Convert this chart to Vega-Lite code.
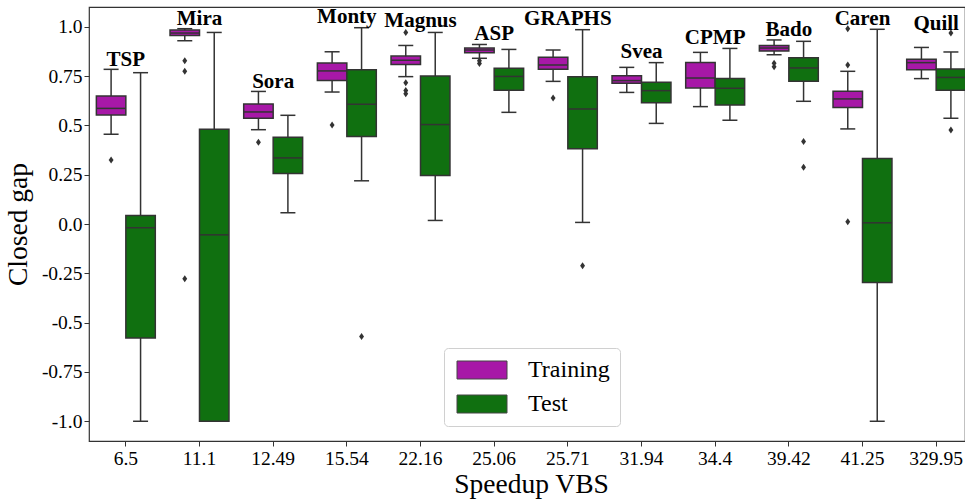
{
  "$schema": "https://vega.github.io/schema/vega-lite/v6.json",
  "autosize": {"type": "none"},
  "width": 876,
  "height": 434,
  "padding": {"left": 89, "top": 7, "right": 0, "bottom": 59},
  "background": "white",
  "config": {
    "font": "Liberation Serif",
    "view": {"stroke": "#333333", "strokeWidth": 1.2},
    "axis": {
      "grid": false,
      "domain": false,
      "tickColor": "#333333",
      "tickSize": 5,
      "tickWidth": 1,
      "labelColor": "#000000",
      "labelFont": "Liberation Serif",
      "labelFontSize": 19.5,
      "titleFont": "Liberation Serif",
      "titleFontSize": 27.5,
      "titleFontWeight": "normal",
      "titleColor": "#000000"
    },
    "axisX": {"labelPadding": 3, "titlePadding": 3, "labelAngle": 0},
    "axisY": {"labelPadding": 2, "titlePadding": 9},
    "legend": {
      "orient": "none",
      "legendX": 355,
      "legendY": 341,
      "padding": 10,
      "strokeColor": "#d0d0d0",
      "fillColor": "#ffffff",
      "cornerRadius": 4,
      "labelFont": "Liberation Serif",
      "labelFontSize": 24,
      "labelColor": "#000000",
      "symbolType": "M-1,-1L4.556,-1L4.556,1L-1,1Z",
      "symbolSize": 324,
      "symbolStrokeColor": "#444444",
      "symbolStrokeWidth": 1,
      "symbolOpacity": 1,
      "labelOffset": 50,
      "rowPadding": 10
    }
  },
  "datasets": {
    "boxes": [
      {"speedup": "6.5", "set": "Training", "lo": 0.455, "q1": 0.553, "med": 0.586, "q3": 0.649, "hi": 0.784},
      {"speedup": "6.5", "set": "Test", "lo": -1.0, "q1": -0.578, "med": -0.019, "q3": 0.043, "hi": 0.767},
      {"speedup": "11.1", "set": "Training", "lo": 0.929, "q1": 0.956, "med": 0.968, "q3": 0.983, "hi": 0.99},
      {"speedup": "11.1", "set": "Test", "lo": -1.0, "q1": -1.0, "med": -0.055, "q3": 0.48, "hi": 0.971},
      {"speedup": "12.49", "set": "Training", "lo": 0.478, "q1": 0.536, "med": 0.568, "q3": 0.608, "hi": 0.672},
      {"speedup": "12.49", "set": "Test", "lo": 0.057, "q1": 0.256, "med": 0.335, "q3": 0.44, "hi": 0.551},
      {"speedup": "15.54", "set": "Training", "lo": 0.669, "q1": 0.728, "med": 0.776, "q3": 0.816, "hi": 0.873},
      {"speedup": "15.54", "set": "Test", "lo": 0.219, "q1": 0.443, "med": 0.607, "q3": 0.782, "hi": 0.995},
      {"speedup": "22.16", "set": "Training", "lo": 0.747, "q1": 0.809, "med": 0.83, "q3": 0.851, "hi": 0.905},
      {"speedup": "22.16", "set": "Test", "lo": 0.018, "q1": 0.246, "med": 0.504, "q3": 0.75, "hi": 0.971},
      {"speedup": "25.06", "set": "Training", "lo": 0.84, "q1": 0.868, "med": 0.882, "q3": 0.892, "hi": 0.91},
      {"speedup": "25.06", "set": "Test", "lo": 0.566, "q1": 0.678, "med": 0.748, "q3": 0.789, "hi": 0.885},
      {"speedup": "25.71", "set": "Training", "lo": 0.723, "q1": 0.784, "med": 0.806, "q3": 0.845, "hi": 0.882},
      {"speedup": "25.71", "set": "Test", "lo": 0.008, "q1": 0.382, "med": 0.583, "q3": 0.747, "hi": 0.985},
      {"speedup": "31.94", "set": "Training", "lo": 0.667, "q1": 0.713, "med": 0.727, "q3": 0.752, "hi": 0.794},
      {"speedup": "31.94", "set": "Test", "lo": 0.51, "q1": 0.615, "med": 0.676, "q3": 0.718, "hi": 0.818},
      {"speedup": "34.4", "set": "Training", "lo": 0.595, "q1": 0.69, "med": 0.74, "q3": 0.819, "hi": 0.87},
      {"speedup": "34.4", "set": "Test", "lo": 0.526, "q1": 0.603, "med": 0.688, "q3": 0.738, "hi": 0.89},
      {"speedup": "39.42", "set": "Training", "lo": 0.858, "q1": 0.877, "med": 0.892, "q3": 0.905, "hi": 0.933},
      {"speedup": "39.42", "set": "Test", "lo": 0.622, "q1": 0.723, "med": 0.791, "q3": 0.843, "hi": 0.926},
      {"speedup": "41.25", "set": "Training", "lo": 0.482, "q1": 0.59, "med": 0.634, "q3": 0.673, "hi": 0.774},
      {"speedup": "41.25", "set": "Test", "lo": -1.0, "q1": -0.296, "med": 0.006, "q3": 0.332, "hi": 0.987},
      {"speedup": "329.95", "set": "Training", "lo": 0.737, "q1": 0.782, "med": 0.818, "q3": 0.835, "hi": 0.895},
      {"speedup": "329.95", "set": "Test", "lo": 0.536, "q1": 0.678, "med": 0.743, "q3": 0.786, "hi": 0.872}
    ],
    "outliers": [
      {"speedup": "6.5", "set": "Training", "value": 0.325},
      {"speedup": "11.1", "set": "Training", "value": 0.828},
      {"speedup": "11.1", "set": "Training", "value": 0.774},
      {"speedup": "11.1", "set": "Training", "value": -0.278},
      {"speedup": "12.49", "set": "Training", "value": 0.414},
      {"speedup": "15.54", "set": "Training", "value": 0.502},
      {"speedup": "15.54", "set": "Test", "value": -0.57},
      {"speedup": "22.16", "set": "Training", "value": 0.971},
      {"speedup": "22.16", "set": "Training", "value": 0.716},
      {"speedup": "22.16", "set": "Training", "value": 0.677},
      {"speedup": "22.16", "set": "Training", "value": 0.66},
      {"speedup": "25.06", "set": "Training", "value": 0.828},
      {"speedup": "25.06", "set": "Training", "value": 0.813},
      {"speedup": "25.71", "set": "Training", "value": 0.639},
      {"speedup": "25.71", "set": "Test", "value": -0.212},
      {"speedup": "39.42", "set": "Training", "value": 0.815},
      {"speedup": "39.42", "set": "Training", "value": 0.797},
      {"speedup": "39.42", "set": "Test", "value": 0.418},
      {"speedup": "39.42", "set": "Test", "value": 0.288},
      {"speedup": "41.25", "set": "Training", "value": 0.99},
      {"speedup": "41.25", "set": "Training", "value": 0.806},
      {"speedup": "41.25", "set": "Training", "value": 0.011},
      {"speedup": "329.95", "set": "Test", "value": 0.968},
      {"speedup": "329.95", "set": "Test", "value": 0.477}
    ],
    "labels": [
      {"speedup": "6.5", "name": "TSP", "y": 0.803},
      {"speedup": "11.1", "name": "Mira", "y": 1.009},
      {"speedup": "12.49", "name": "Sora", "y": 0.69},
      {"speedup": "15.54", "name": "Monty", "y": 1.017},
      {"speedup": "22.16", "name": "Magnus", "y": 1.0},
      {"speedup": "25.06", "name": "ASP", "y": 0.933},
      {"speedup": "25.71", "name": "GRAPHS", "y": 1.009},
      {"speedup": "31.94", "name": "Svea", "y": 0.841},
      {"speedup": "34.4", "name": "CPMP", "y": 0.912},
      {"speedup": "39.42", "name": "Bado", "y": 0.954},
      {"speedup": "41.25", "name": "Caren", "y": 1.01},
      {"speedup": "329.95", "name": "Quill", "y": 0.985}
    ]
  },
  "encoding": {
    "x": {
      "field": "speedup",
      "type": "nominal",
      "title": "Speedup VBS",
      "scale": {
        "domain": ["6.5", "11.1", "12.49", "15.54", "22.16", "25.06", "25.71", "31.94", "34.4", "39.42", "41.25", "329.95"],
        "range": [0, 884],
        "paddingInner": 0,
        "paddingOuter": 0
      }
    }
  },
  "layer": [
    {
      "data": {"name": "boxes"},
      "mark": {"type": "rule", "color": "#333333", "strokeWidth": 1.5},
      "encoding": {
        "xOffset": {"field": "set", "type": "nominal", "scale": {"domain": ["Training", "Test"], "paddingInner": 0, "paddingOuter": 0.25}},
        "y": {"field": "lo", "type": "quantitative", "title": "Closed gap",
              "scale": {"domain": [-1.1, 1.1], "nice": false, "zero": false},
              "axis": {"values": [-1, -0.75, -0.5, -0.25, 0, 0.25, 0.5, 0.75, 1],
                       "labelExpr": "(abs(datum.value) == 1 || datum.value == 0) ? toString(datum.value) + '.0' : toString(datum.value)"}},
        "y2": {"field": "hi"}
      }
    },
    {
      "data": {"name": "boxes"},
      "mark": {"type": "tick", "color": "#333333", "thickness": 1.5, "size": 15, "opacity": 1},
      "encoding": {
        "xOffset": {"field": "set", "type": "nominal"},
        "y": {"field": "lo", "type": "quantitative", "title": "Closed gap"}
      }
    },
    {
      "data": {"name": "boxes"},
      "mark": {"type": "tick", "color": "#333333", "thickness": 1.5, "size": 15, "opacity": 1},
      "encoding": {
        "xOffset": {"field": "set", "type": "nominal"},
        "y": {"field": "hi", "type": "quantitative", "title": "Closed gap"}
      }
    },
    {
      "data": {"name": "boxes"},
      "mark": {"type": "bar", "stroke": "#333333", "strokeWidth": 1.5, "opacity": 1},
      "encoding": {
        "xOffset": {"field": "set", "type": "nominal"},
        "y": {"field": "q1", "type": "quantitative", "title": "Closed gap"},
        "y2": {"field": "q3"},
        "color": {
          "field": "set",
          "type": "nominal",
          "scale": {"domain": ["Training", "Test"], "range": ["#a718a7", "#107010"]},
          "legend": {"title": null}
        }
      }
    },
    {
      "data": {"name": "boxes"},
      "mark": {"type": "tick", "color": "#333333", "thickness": 1.5, "size": 29, "opacity": 1},
      "encoding": {
        "xOffset": {"field": "set", "type": "nominal"},
        "y": {"field": "med", "type": "quantitative", "title": "Closed gap"}
      }
    },
    {
      "data": {"name": "outliers"},
      "mark": {"type": "point", "shape": "M0,-1L0.7,0L0,1L-0.7,0Z", "size": 49, "filled": true, "color": "#333333", "opacity": 1},
      "encoding": {
        "xOffset": {"field": "set", "type": "nominal"},
        "y": {"field": "value", "type": "quantitative", "title": "Closed gap"}
      }
    },
    {
      "data": {"name": "labels"},
      "mark": {"type": "text", "font": "Liberation Serif", "fontWeight": "bold", "fontSize": 21, "baseline": "alphabetic", "align": "center", "color": "#000000"},
      "encoding": {
        "y": {"field": "y", "type": "quantitative", "title": "Closed gap"},
        "text": {"field": "name"}
      }
    }
  ]
}
